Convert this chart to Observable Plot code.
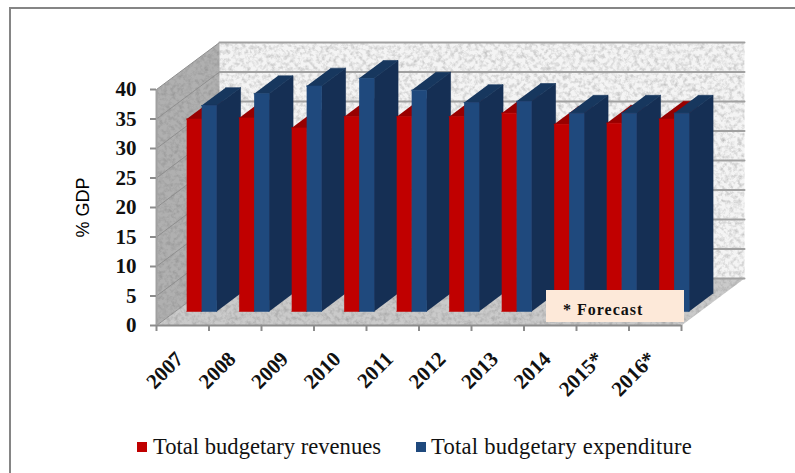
<!DOCTYPE html>
<html>
<head>
<meta charset="utf-8">
<script src="https://cdn.jsdelivr.net/npm/d3@7"></script>
<script src="https://cdn.jsdelivr.net/npm/@observablehq/plot@0.6"></script>
<style>
html,body{margin:0;padding:0;background:#fff;}
#page{position:relative;width:795px;height:473px;overflow:hidden;}
#page svg.plot{position:absolute;left:0;top:0;}
.frameT{position:absolute;left:9px;top:7px;right:0;height:2px;background:#858585;}
.frameL{position:absolute;left:9px;top:7px;bottom:0;width:2px;background:#858585;}
#note{position:absolute;left:546px;top:290px;width:138px;height:32px;background:#fde9d9;
 font:bold 16px "Liberation Serif",serif;letter-spacing:1px;color:#111;line-height:40px;box-sizing:border-box;padding-left:17px;}
.sw{position:absolute;top:442px;width:10px;height:10px;}
.lg{position:absolute;top:434px;font:22.6px "Liberation Serif",serif;color:#111;white-space:nowrap;line-height:26px;}
</style>
</head>
<body>
<svg width="0" height="0" style="position:absolute">
  <filter id="speckle" x="0" y="0" width="100%" height="100%" color-interpolation-filters="sRGB">
    <feTurbulence type="fractalNoise" baseFrequency="0.24" numOctaves="3" seed="7" result="n"/>
    <feColorMatrix in="n" type="matrix" values="0 0 0 0 0.45  0 0 0 0 0.45  0 0 0 0 0.45  0.8 0 0 0 -0.33" result="s"/>
    <feComposite in="s" in2="SourceGraphic" operator="in" result="c"/>
    <feMerge><feMergeNode in="SourceGraphic"/><feMergeNode in="c"/></feMerge>
  </filter>
</svg>
<div id="page">
  <div class="frameT"></div><div class="frameL"></div>
</div>
<script>
const years = ["2007","2008","2009","2010","2011","2012","2013","2014","2015*","2016*"];
const revenues = [32.6,32.8,31.1,33.0,33.0,33.0,33.6,31.7,31.9,32.6];
const expenditure = [34.9,36.9,38.2,39.5,37.5,35.4,35.6,33.6,33.6,33.6];
const yTicks = [0,5,10,15,20,25,30,35,40];

// oblique projection of the depth axis, in x-category units and y-value units
const DX = 1.2, DY = 7.966;
const D0 = 0.3, D1 = 0.68;   // bar front and back planes
const BW = 0.285;            // bar width in category units
const P = (X, v, d) => ({x: X + d * DX, y: v + d * DY});

const faces = [];
function poly(id, part, pts){ pts.forEach(p => faces.push({id, part, ...P(...p)})); }
years.forEach((yr, i) => {
  [[revenues[i], "rev", -BW], [expenditure[i], "exp", 0]].forEach(([v, s, off]) => {
    const a = i + 0.5 + off, b = a + BW;
    poly(`${yr}${s}side`, `${s}-side`, [[b,0,D0],[b,v,D0],[b,v,D1],[b,0,D1]]);
    poly(`${yr}${s}top`, `${s}-top`, [[a,v,D0],[b,v,D0],[b,v,D1],[a,v,D1]]);
    poly(`${yr}${s}front`, `${s}-front`, [[a,0,D0],[b,0,D0],[b,v,D0],[a,v,D0]]);
  });
});

const wall = (pts) => pts.map(p => P(...p));
const backWall = wall([[0,0,1],[10,0,1],[10,40,1],[0,40,1]]);
const leftWall = wall([[0,0,0],[0,0,1],[0,40,1],[0,40,0]]);
const floor = wall([[0,0,0],[10,0,0],[10,0,1],[0,0,1]]);
const backGrid = yTicks.flatMap(t => wall([[0,t,1],[10,t,1]]).map(p => ({...p, t})));
const sideGrid = yTicks.flatMap(t => wall([[0,t,0],[0,t,1]]).map(p => ({...p, t})));

const plot = Plot.plot({
  width: 795, height: 473,
  marginLeft: 156, marginRight: 114, marginTop: 89, marginBottom: 148,
  x: {domain: [0, 10]},
  y: {domain: [0, 40]},
  color: {
    domain: ["rev-front","rev-top","rev-side","exp-front","exp-top","exp-side"],
    range: ["#c00000","#980000","#980000","#1f497d","#17375e","#152f54"]
  },
  style: {background: "transparent", overflow: "visible"},
  marks: [
    Plot.line(backWall, {x:"x", y:"y", fill:"#f4f4f4", stroke:"none", imageFilter:"url(#speckle)"}),
    Plot.line(leftWall, {x:"x", y:"y", fill:"#b0b0b0", stroke:"none", imageFilter:"url(#speckle)"}),
    Plot.line(floor, {x:"x", y:"y", fill:"#cacaca", stroke:"none", imageFilter:"url(#speckle)"}),
    Plot.line(sideGrid, {x:"x", y:"y", z:"t", stroke:"#8f8f8f", strokeWidth:1}),
    Plot.line(backGrid, {x:"x", y:"y", z:"t", stroke:"#a0a0a0", strokeWidth:2}),
    Plot.line(faces, {x:"x", y:"y", z:"id", fill:"part", stroke:"part", strokeWidth:0.6}),
    Plot.ruleY([0], {stroke:"#8c8c8c", strokeWidth:2}),
    Plot.ruleX([0], {stroke:"#a0a0a0", strokeWidth:2}),
    Plot.axisY({ticks: yTicks, tickSize: 6, tickPadding: 14, stroke:"#8c8c8c", strokeWidth:2, label:null,
      fill:"#111", fontFamily:"Liberation Serif", fontWeight:"bold", fontSize:21}),
    Plot.axisY({ticks: [], label:"% GDP", labelAnchor:"center", labelArrow:"none", labelOffset:80,
      fill:"#000", fontFamily:"Liberation Sans", fontSize:18}),
    Plot.axisX({ticks: d3.range(0,11), tickSize: 6, tickFormat: () => "", stroke:"#8c8c8c", strokeWidth:2, label:null}),
    Plot.axisX({ticks: d3.range(0,10).map(i => i + 0.5), tickSize: 0, tickPadding: 30, dx: -3, tickRotate: -45, label:null,
      tickFormat: d => years[Math.floor(d)],
      fill:"#111", fontFamily:"Liberation Serif", fontWeight:"bold", fontSize:21})
  ]
});
const page = document.getElementById("page");
page.appendChild(plot);

const note = document.createElement("div");
note.id = "note"; note.textContent = "* Forecast";
page.appendChild(note);

[["Total budgetary revenues","#c00000",137,153,0],["Total budgetary expenditure","#1f497d",416,431,0.25]].forEach(([t,c,sx,tx,ls]) => {
  const s = document.createElement("div"); s.className="sw"; s.style.left=sx+"px"; s.style.background=c; page.appendChild(s);
  const l = document.createElement("div"); l.className="lg"; l.style.left=tx+"px"; l.style.letterSpacing=ls+"px"; l.textContent=t; page.appendChild(l);
});
</script>
</body>
</html>
